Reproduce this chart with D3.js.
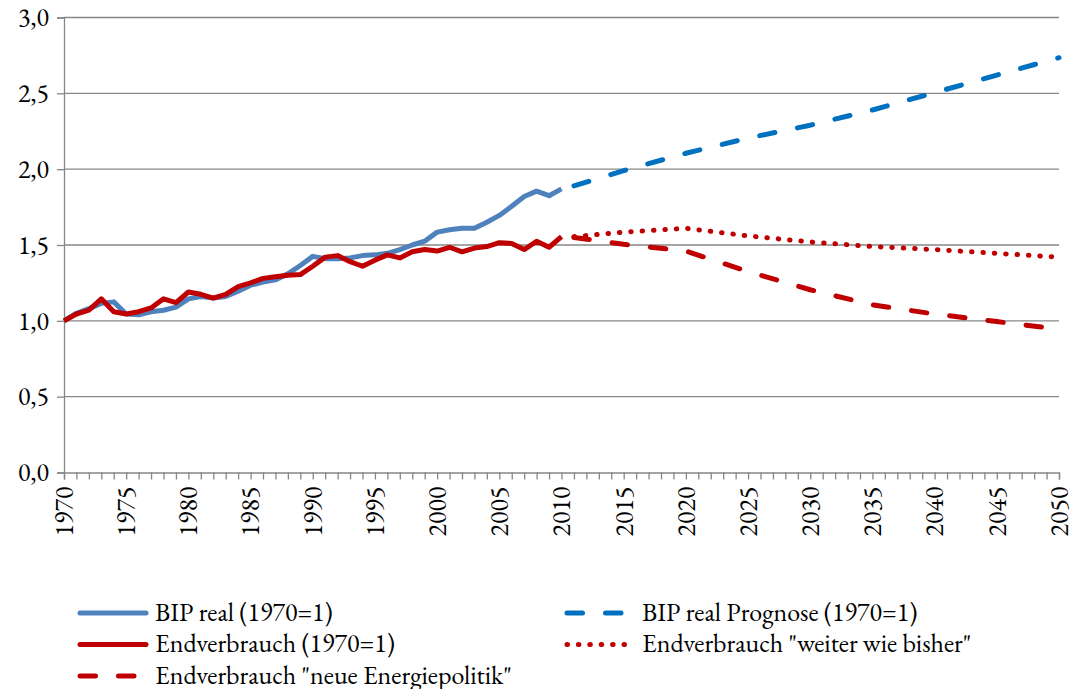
<!DOCTYPE html>
<html>
<head>
<meta charset="utf-8">
<script src="https://cdn.jsdelivr.net/npm/d3@7"></script>
<style>
  body { margin: 0; background: #fff; }
</style>
</head>
<body>
<div id="chart"></div>
<script>
// historical series, 1970..2010
var years_hist = d3.range(1970, 2011);

var bip_real = [
  1.00, 1.05, 1.08, 1.115, 1.125, 1.045, 1.04, 1.06, 1.07, 1.09,
  1.145, 1.16, 1.15, 1.16, 1.195, 1.235, 1.255, 1.27, 1.31, 1.365,
  1.425, 1.41, 1.41, 1.415, 1.43, 1.435, 1.445, 1.47, 1.50, 1.525,
  1.585, 1.60, 1.61, 1.61, 1.65, 1.695, 1.755, 1.82, 1.855, 1.825,
  1.87
];

var endverbrauch = [
  1.00, 1.045, 1.07, 1.145, 1.06, 1.045, 1.06, 1.085, 1.145, 1.12,
  1.19, 1.175, 1.15, 1.175, 1.225, 1.25, 1.28, 1.29, 1.30, 1.305,
  1.36, 1.42, 1.43, 1.39, 1.36, 1.40, 1.435, 1.415, 1.455, 1.47,
  1.46, 1.485, 1.455, 1.48, 1.49, 1.515, 1.51, 1.47, 1.525, 1.485,
  1.555
];

// forecasts
var years_prog = [2011, 2015, 2020, 2025, 2030, 2035, 2040, 2045, 2050];

var bip_prognose      = [1.89, 1.99, 2.105, 2.205, 2.29, 2.39, 2.505, 2.62, 2.735];
var weiter_wie_bisher = [1.555, 1.585, 1.61, 1.56, 1.52, 1.49, 1.47, 1.445, 1.42];
var neue_politik      = [1.55, 1.505, 1.46, 1.325, 1.205, 1.105, 1.045, 0.995, 0.945];

var y_ticks = [0, 0.5, 1, 1.5, 2, 2.5, 3];
var x_labels = d3.range(1970, 2051, 5);

var series = [
  { name: "BIP real (1970=1)",                      years: years_hist, values: bip_real,          color: "#4F81BD", dash: null },
  { name: "Endverbrauch (1970=1)",                  years: years_hist, values: endverbrauch,      color: "#C00000", dash: null },
  { name: "BIP real Prognose (1970=1)",             years: years_prog, values: bip_prognose,      color: "#0070C0", dash: "15.5,23" },
  { name: "Endverbrauch \"weiter wie bisher\"",     years: years_prog, values: weiter_wie_bisher, color: "#C00000", dash: "0.5,10.9" },
  { name: "Endverbrauch \"neue Energiepolitik\"",   years: years_prog, values: neue_politik,      color: "#C00000", dash: "15.5,23" }
];

// legend order: two columns
var legend_slots = [
  { s: 0, col: 0, row: 0 },
  { s: 2, col: 1, row: 0 },
  { s: 1, col: 0, row: 1 },
  { s: 3, col: 1, row: 1 },
  { s: 4, col: 0, row: 2 }
];

var font = "'EB Garamond', 'Liberation Serif', serif";

var chart = {
  width: 1071,
  height: 689,
  left: 64,
  right: 1059,
  top: 17.5,
  bottom: 472.5
};

var svg = d3.select("#chart").append("svg")
  .attr("width", chart.width)
  .attr("height", chart.height);

var x = d3.scaleLinear().domain([1970, 2050]).range([chart.left, chart.right]);
var y = d3.scaleLinear().domain([0, 3]).range([chart.bottom, chart.top]);

var grid_color = "#878787";

// gridlines
svg.append("g")
  .selectAll("line")
  .data(y_ticks.filter(function(d) { return d > 0; }))
  .enter().append("line")
  .attr("x1", chart.left)
  .attr("x2", chart.right)
  .attr("y1", function(d) { return y(d); })
  .attr("y2", function(d) { return y(d); })
  .style("stroke", grid_color)
  .style("stroke-width", 1.3);

// y axis
var y_axis = svg.append("g")
  .attr("transform", "translate(" + chart.left + ",0)")
  .call(d3.axisLeft(y)
    .tickValues(y_ticks)
    .tickSize(7)
    .tickPadding(8)
    .tickFormat(function(d) { return d3.format(".1f")(d).replace(".", ","); }));

// x axis, a tick every year
var x_axis = svg.append("g")
  .attr("transform", "translate(0," + chart.bottom + ")")
  .call(d3.axisBottom(x)
    .tickValues(d3.range(1970, 2051))
    .tickSize(7)
    .tickFormat(""));

[y_axis, x_axis].forEach(function(a) {
  a.attr("font-family", null).attr("font-size", null);
  a.select(".domain").style("stroke", grid_color).style("stroke-width", 1.3);
  a.selectAll(".tick line").style("stroke", grid_color).style("stroke-width", 1.3);
});

y_axis.selectAll(".tick text")
  .style("font-family", font)
  .style("font-size", "26px")
  .attr("fill", "#000");

x_axis.selectAll(".x-label")
  .data(x_labels)
  .enter().append("text")
  .attr("class", "x-label")
  .attr("transform", function(d) { return "translate(" + x(d) + ",14) rotate(-90)"; })
  .attr("dy", "0.34em")
  .attr("fill", "#000")
  .style("text-anchor", "end")
  .style("font-family", font)
  .style("font-size", "26px")
  .text(function(d) { return d; });

// lines
var line_gen = d3.line()
  .x(function(d) { return x(d[0]); })
  .y(function(d) { return y(d[1]); });

svg.append("g")
  .selectAll("path")
  .data(series)
  .enter().append("path")
  .attr("d", function(s) { return line_gen(d3.zip(s.years, s.values)); })
  .style("fill", "none")
  .style("stroke", function(s) { return s.color; })
  .style("stroke-width", 5)
  .style("stroke-linecap", function(s) { return s.dash ? "round" : "butt"; })
  .style("stroke-linejoin", "round")
  .style("stroke-dasharray", function(s) { return s.dash; });

// legend
var legend = {
  col_x: [80, 567],
  row_y: [613, 644.5, 676],
  sample: 66,
  gap: 9
};

var items = svg.append("g")
  .selectAll("g")
  .data(legend_slots)
  .enter().append("g")
  .attr("transform", function(d) {
    return "translate(" + legend.col_x[d.col] + "," + legend.row_y[d.row] + ")";
  });

items.append("line")
  .attr("x1", 0)
  .attr("x2", legend.sample)
  .style("stroke", function(d) { return series[d.s].color; })
  .style("stroke-width", 5)
  .style("stroke-linecap", "round")
  .style("stroke-dasharray", function(d) { return series[d.s].dash; });

items.append("text")
  .attr("x", legend.sample + legend.gap)
  .attr("dy", "0.3em")
  .attr("fill", "#000")
  .style("font-family", font)
  .style("font-size", "26px")
  .text(function(d) { return series[d.s].name; });
</script>
</body>
</html>
